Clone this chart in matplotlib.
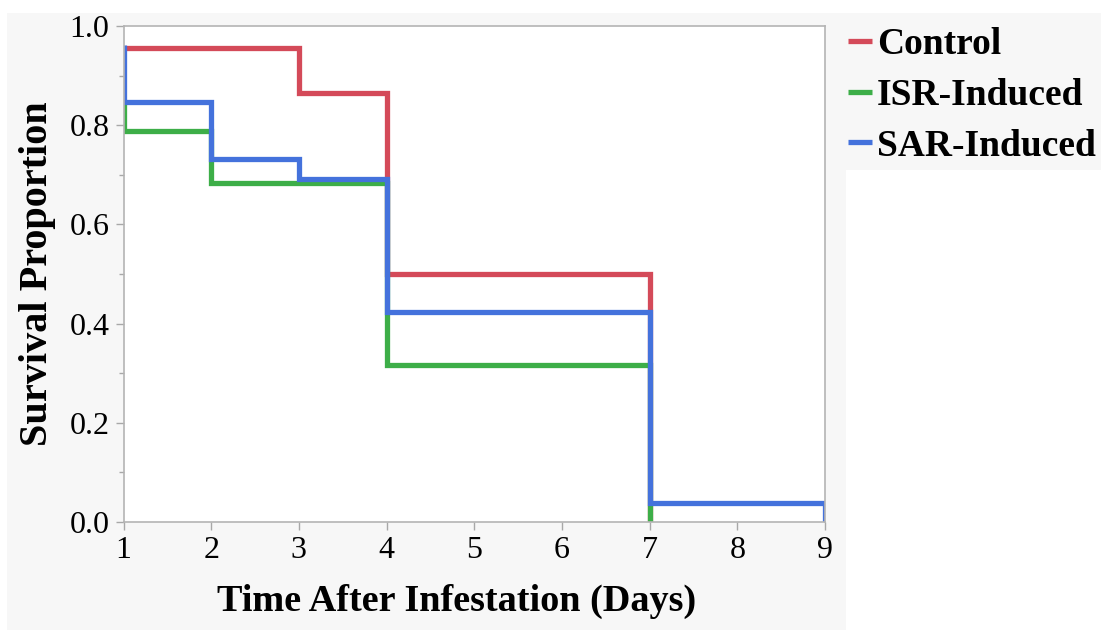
import matplotlib
matplotlib.use("Agg")
import matplotlib.pyplot as plt
from matplotlib.patches import Rectangle
from matplotlib.ticker import MultipleLocator, FormatStrFormatter

# Kaplan-Meier survival steps: level held from each day onward
groups = ["Control", "ISR-Induced", "SAR-Induced"]
control_days = [1, 3, 4, 7]
control_surv = [0.955, 0.864, 0.500, 0.0]
isr_days = [1, 1, 2, 4, 7]
isr_surv = [0.842, 0.789, 0.684, 0.316, 0.0]
sar_days = [1, 1, 2, 3, 4, 7, 9]
sar_surv = [0.962, 0.846, 0.731, 0.692, 0.423, 0.038, 0.0]

colors = ["#d44a59", "#3dae48", "#4472dc"]
panel_gray = "#f7f7f7"

plt.rcParams["font.family"] = ["Liberation Serif", "DejaVu Serif"]

fig = plt.figure(figsize=(11.01, 6.30), dpi=100, facecolor="white")

# light gray backdrop behind the plot and the legend
fig.patches.append(Rectangle((7 / 1101, 0), 839 / 1101, 617 / 630,
                             transform=fig.transFigure, facecolor=panel_gray,
                             edgecolor="none", zorder=0))
fig.patches.append(Rectangle((846 / 1101, 460 / 630), 255 / 1101, 157 / 630,
                             transform=fig.transFigure, facecolor=panel_gray,
                             edgecolor="none", zorder=0))

ax = fig.add_axes([123.5 / 1101, 108 / 630, 701.5 / 1101, 496 / 630])
ax.set_zorder(2)
ax.set_facecolor("white")

series = [(control_days, control_surv), (isr_days, isr_surv), (sar_days, sar_surv)]
for (days, surv), name, c in zip(series, groups, colors):
    ax.step(days, surv, where="post", color=c, lw=3.8, label=name,
            solid_joinstyle="miter", solid_capstyle="butt")

ax.set_xlim(1, 9)
ax.set_ylim(0, 1.0)
ax.xaxis.set_major_locator(MultipleLocator(1))
ax.yaxis.set_major_locator(MultipleLocator(0.2))
ax.yaxis.set_minor_locator(MultipleLocator(0.1))
ax.yaxis.set_major_formatter(FormatStrFormatter("%.1f"))

for sp in ax.spines.values():
    sp.set_color("#b4b4b4")
    sp.set_linewidth(1.2)

ax.tick_params(axis="both", which="major", length=6, width=1, color="#a8a8a8",
               labelsize=23, pad=4)
ax.tick_params(axis="y", which="minor", length=3.5, width=1, color="#a8a8a8")

ax.set_xlabel("Time After Infestation (Days)", fontsize=27.5, fontweight="bold")
ax.xaxis.set_label_coords(0.475, -0.125)
ax.set_ylabel("Survival Proportion", fontsize=29, fontweight="bold")
ax.yaxis.set_label_coords(-0.096, 0.5)

leg = fig.legend(loc="upper left", bbox_to_anchor=(848 / 1101, 1 - 27 / 630),
                 frameon=False, fontsize=27, handlelength=0.65,
                 handletextpad=0.12, labelspacing=0.42, borderpad=0,
                 borderaxespad=0)
leg.set_zorder(3)
for txt in leg.get_texts():
    txt.set_fontweight("bold")

fig.savefig("out.png", dpi=100, facecolor="white")
